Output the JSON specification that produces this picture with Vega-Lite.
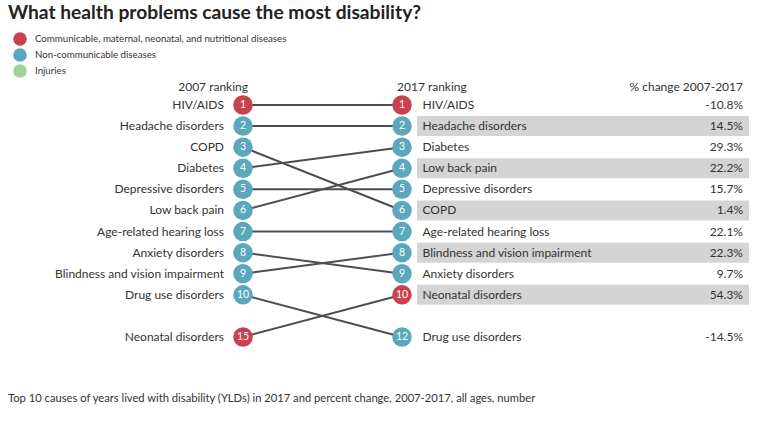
{
  "$schema": "https://vega.github.io/schema/vega-lite/v6.json",
  "width": 768,
  "height": 391,
  "autosize": {"type": "none"},
  "padding": {"top": 30, "left": 0, "right": 0, "bottom": 0},
  "background": "white",
  "config": {
    "view": {"stroke": null},
    "font": "Lato",
    "legend": {
      "orient": "none",
      "legendX": 13,
      "legendY": 2,
      "symbolSize": 182,
      "labelFontSize": 9.7,
      "labelFont": "Lato",
      "labelColor": "#333333",
      "labelLimit": 0,
      "rowPadding": 2,
      "labelOffset": 8,
      "padding": 0,
      "symbolType": "circle",
      "symbolStrokeWidth": 0,
      "symbolOpacity": 1
    }
  },
  "title": {
    "text": "What health problems cause the most disability?",
    "anchor": "start",
    "frame": "group",
    "dx": 8,
    "fontSize": 19.2,
    "fontWeight": "bold",
    "font": "Lato",
    "color": "#222222",
    "offset": 7
  },
  "data": {
    "values": [
      {"cause": "HIV/AIDS", "r07": 1, "r17": 1, "row07": 1, "row17": 1, "cat": "Communicable, maternal, neonatal, and nutritional diseases", "pct": -10.8},
      {"cause": "Headache disorders", "r07": 2, "r17": 2, "row07": 2, "row17": 2, "cat": "Non-communicable diseases", "pct": 14.5},
      {"cause": "COPD", "r07": 3, "r17": 6, "row07": 3, "row17": 6, "cat": "Non-communicable diseases", "pct": 1.4},
      {"cause": "Diabetes", "r07": 4, "r17": 3, "row07": 4, "row17": 3, "cat": "Non-communicable diseases", "pct": 29.3},
      {"cause": "Depressive disorders", "r07": 5, "r17": 5, "row07": 5, "row17": 5, "cat": "Non-communicable diseases", "pct": 15.7},
      {"cause": "Low back pain", "r07": 6, "r17": 4, "row07": 6, "row17": 4, "cat": "Non-communicable diseases", "pct": 22.2},
      {"cause": "Age-related hearing loss", "r07": 7, "r17": 7, "row07": 7, "row17": 7, "cat": "Non-communicable diseases", "pct": 22.1},
      {"cause": "Anxiety disorders", "r07": 8, "r17": 9, "row07": 8, "row17": 9, "cat": "Non-communicable diseases", "pct": 9.7},
      {"cause": "Blindness and vision impairment", "r07": 9, "r17": 8, "row07": 9, "row17": 8, "cat": "Non-communicable diseases", "pct": 22.3},
      {"cause": "Drug use disorders", "r07": 10, "r17": 12, "row07": 10, "row17": 12, "cat": "Non-communicable diseases", "pct": -14.5},
      {"cause": "Neonatal disorders", "r07": 15, "r17": 10, "row07": 12, "row17": 10, "cat": "Communicable, maternal, neonatal, and nutritional diseases", "pct": 54.3}
    ]
  },
  "layer": [
    {
      "transform": [{"filter": "datum.r17 % 2 == 0 && datum.r17 <= 10"}],
      "mark": {"type": "rule", "color": "#d4d4d4", "strokeWidth": 20},
      "encoding": {
        "x": {"datum": 1.0943, "type": "quantitative", "scale": {"domain": [-1.5283, 3.3019], "nice": false, "zero": false}, "axis": null},
        "x2": {"datum": 3.1824},
        "y": {"field": "row17", "type": "quantitative", "scale": {"domain": [-2.556, 15.983], "reverse": true, "nice": false, "zero": false}, "axis": null}
      }
    },
    {
      "mark": {"type": "rule", "color": "#4d4d4d", "strokeWidth": 2},
      "encoding": {
        "x": {"datum": 0, "type": "quantitative", "scale": {"domain": [-1.5283, 3.3019], "nice": false, "zero": false}, "axis": null},
        "x2": {"datum": 1},
        "y": {"field": "row07", "type": "quantitative", "scale": {"domain": [-2.556, 15.983], "reverse": true, "nice": false, "zero": false}, "axis": null},
        "y2": {"field": "row17"}
      }
    },
    {
      "mark": {"type": "point", "filled": true, "opacity": 1, "size": 380, "shape": "circle"},
      "encoding": {
        "x": {"datum": 0, "type": "quantitative", "scale": {"domain": [-1.5283, 3.3019], "nice": false, "zero": false}, "axis": null},
        "y": {"field": "row07", "type": "quantitative", "scale": {"domain": [-2.556, 15.983], "reverse": true, "nice": false, "zero": false}, "axis": null},
        "color": {"field": "cat", "type": "nominal", "title": null, "scale": {"domain": ["Communicable, maternal, neonatal, and nutritional diseases", "Non-communicable diseases", "Injuries"], "range": ["#c8414e", "#5ba7bc", "#9fd39b"]}}
      }
    },
    {
      "mark": {"type": "point", "filled": true, "opacity": 1, "size": 380, "shape": "circle"},
      "encoding": {
        "x": {"datum": 1, "type": "quantitative", "scale": {"domain": [-1.5283, 3.3019], "nice": false, "zero": false}, "axis": null},
        "y": {"field": "row17", "type": "quantitative", "scale": {"domain": [-2.556, 15.983], "reverse": true, "nice": false, "zero": false}, "axis": null},
        "color": {"field": "cat", "type": "nominal", "title": null, "scale": {"domain": ["Communicable, maternal, neonatal, and nutritional diseases", "Non-communicable diseases", "Injuries"], "range": ["#c8414e", "#5ba7bc", "#9fd39b"]}}
      }
    },
    {
      "mark": {"type": "text", "color": "white", "fontSize": 10.5, "align": "center", "baseline": "middle", "font": "Lato"},
      "encoding": {
        "x": {"datum": 0, "type": "quantitative", "scale": {"domain": [-1.5283, 3.3019], "nice": false, "zero": false}, "axis": null},
        "y": {"field": "row07", "type": "quantitative", "scale": {"domain": [-2.556, 15.983], "reverse": true, "nice": false, "zero": false}, "axis": null},
        "text": {"field": "r07", "type": "nominal"}
      }
    },
    {
      "mark": {"type": "text", "color": "white", "fontSize": 10.5, "align": "center", "baseline": "middle", "font": "Lato"},
      "encoding": {
        "x": {"datum": 1, "type": "quantitative", "scale": {"domain": [-1.5283, 3.3019], "nice": false, "zero": false}, "axis": null},
        "y": {"field": "row17", "type": "quantitative", "scale": {"domain": [-2.556, 15.983], "reverse": true, "nice": false, "zero": false}, "axis": null},
        "text": {"field": "r17", "type": "nominal"}
      }
    },
    {
      "mark": {"type": "text", "color": "#333333", "fontSize": 12, "align": "right", "baseline": "middle", "dx": -19, "font": "Lato"},
      "encoding": {
        "x": {"datum": 0, "type": "quantitative", "scale": {"domain": [-1.5283, 3.3019], "nice": false, "zero": false}, "axis": null},
        "y": {"field": "row07", "type": "quantitative", "scale": {"domain": [-2.556, 15.983], "reverse": true, "nice": false, "zero": false}, "axis": null},
        "text": {"field": "cause", "type": "nominal"}
      }
    },
    {
      "mark": {"type": "text", "color": "#333333", "fontSize": 12, "align": "left", "baseline": "middle", "dx": 20.5, "font": "Lato"},
      "encoding": {
        "x": {"datum": 1, "type": "quantitative", "scale": {"domain": [-1.5283, 3.3019], "nice": false, "zero": false}, "axis": null},
        "y": {"field": "row17", "type": "quantitative", "scale": {"domain": [-2.556, 15.983], "reverse": true, "nice": false, "zero": false}, "axis": null},
        "text": {"field": "cause", "type": "nominal"}
      }
    },
    {
      "transform": [{"calculate": "datum.pct + '%'", "as": "pctLabel"}],
      "mark": {"type": "text", "color": "#333333", "fontSize": 12, "align": "right", "baseline": "middle", "font": "Lato"},
      "encoding": {
        "x": {"datum": 3.1447, "type": "quantitative", "scale": {"domain": [-1.5283, 3.3019], "nice": false, "zero": false}, "axis": null},
        "y": {"field": "row17", "type": "quantitative", "scale": {"domain": [-2.556, 15.983], "reverse": true, "nice": false, "zero": false}, "axis": null},
        "text": {"field": "pctLabel", "type": "nominal"}
      }
    },
    {
      "data": {"values": [{}]},
      "mark": {"type": "text", "color": "#333333", "fontSize": 12, "align": "right", "baseline": "middle", "dx": 5, "font": "Lato"},
      "encoding": {
        "x": {"datum": 0, "type": "quantitative", "scale": {"domain": [-1.5283, 3.3019], "nice": false, "zero": false}, "axis": null},
        "y": {"datum": 0.15, "type": "quantitative", "scale": {"domain": [-2.556, 15.983], "reverse": true, "nice": false, "zero": false}, "axis": null},
        "text": {"value": "2007 ranking"}
      }
    },
    {
      "data": {"values": [{}]},
      "mark": {"type": "text", "color": "#333333", "fontSize": 12, "align": "left", "baseline": "middle", "dx": -5, "font": "Lato"},
      "encoding": {
        "x": {"datum": 1, "type": "quantitative", "scale": {"domain": [-1.5283, 3.3019], "nice": false, "zero": false}, "axis": null},
        "y": {"datum": 0.15, "type": "quantitative", "scale": {"domain": [-2.556, 15.983], "reverse": true, "nice": false, "zero": false}, "axis": null},
        "text": {"value": "2017 ranking"}
      }
    },
    {
      "data": {"values": [{}]},
      "mark": {"type": "text", "color": "#333333", "fontSize": 12, "align": "right", "baseline": "middle", "font": "Lato"},
      "encoding": {
        "x": {"datum": 3.1447, "type": "quantitative", "scale": {"domain": [-1.5283, 3.3019], "nice": false, "zero": false}, "axis": null},
        "y": {"datum": 0.15, "type": "quantitative", "scale": {"domain": [-2.556, 15.983], "reverse": true, "nice": false, "zero": false}, "axis": null},
        "text": {"value": "% change 2007-2017"}
      }
    },
    {
      "data": {"values": [{}]},
      "mark": {"type": "text", "color": "#333333", "fontSize": 11.2, "align": "left", "baseline": "middle", "font": "Lato"},
      "encoding": {
        "x": {"datum": -1.478, "type": "quantitative", "scale": {"domain": [-1.5283, 3.3019], "nice": false, "zero": false}, "axis": null},
        "y": {"datum": 14.94, "type": "quantitative", "scale": {"domain": [-2.556, 15.983], "reverse": true, "nice": false, "zero": false}, "axis": null},
        "text": {"value": "Top 10 causes of years lived with disability (YLDs) in 2017 and percent change, 2007-2017, all ages, number"}
      }
    }
  ]
}
